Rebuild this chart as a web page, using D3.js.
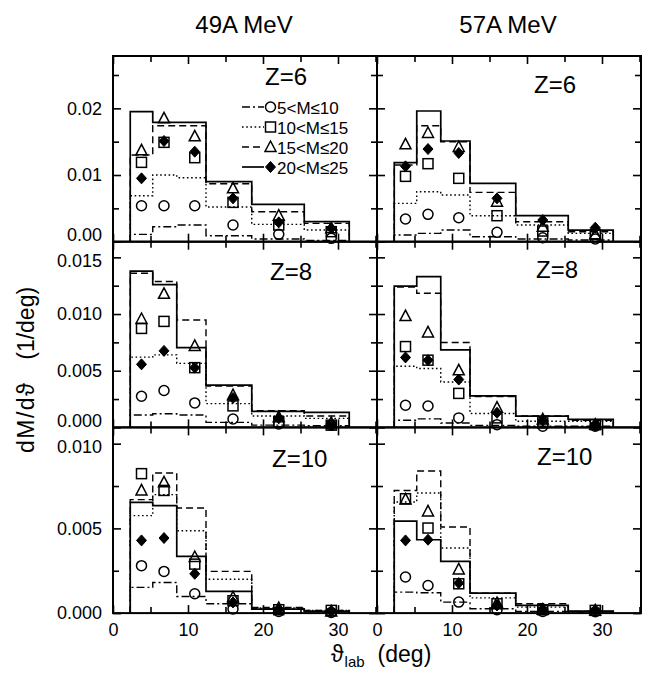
<!DOCTYPE html>
<html>
<head>
<meta charset="utf-8">
<script src="https://cdn.jsdelivr.net/npm/d3@7"></script>
<style>
  html, body { margin: 0; padding: 0; background: #fff; }
  svg { display: block; font-family: "Liberation Sans", Arial, Helvetica, sans-serif; }
</style>
</head>
<body>
<svg id="chart" width="655" height="679"></svg>
<script>
// Angular bins (deg) and marker positions shared by every panel
const binEdges = [2.3, 5.3, 8.5, 12.4, 18.5, 25.5, 31.5];
const markerAngles = [3.8, 6.8, 10.9, 16.0, 22.1, 29.1];

const multClasses = ["5<M\u226410", "10<M\u226415", "15<M\u226420", "20<M\u226425"];
const beamLabels = ["49A MeV", "57A MeV"];
const chargeLabels = ["Z=6", "Z=8", "Z=10"];

// x-axis ticks
const xMajorTicks = [0, 10, 20, 30];
const xMinorTicks = [5, 15, 25, 35];

// y-axis ticks per row
const yMajorTicksZ6 = [0, 0.01, 0.02];
const yMinorTicksZ6 = [0.005, 0.015, 0.025];
const yMajorTicksZ8 = [0, 0.005, 0.010, 0.015];
const yMinorTicksZ8 = [0.0025, 0.0075, 0.0125];
const yMajorTicksZ10 = [0, 0.005, 0.010];
const yMinorTicksZ10 = [0.0025, 0.0075];

// Histograms (calculation), one row per multiplicity class: 5-10, 10-15, 15-20, 20-25
const hist49Z6 = [
  [0.0011, 0.00225, 0.0025, 0.0009, 0.0004, 0.0002],
  [0.0069, 0.0100, 0.0096, 0.0052, 0.0026, 0.00175],
  [0.0130, 0.0174, 0.0174, 0.0087, 0.0045, 0.00275],
  [0.0195, 0.0179, 0.0179, 0.0090, 0.0056, 0.0030]
];
const data49Z6 = [
  [0.0054, 0.0054, 0.0054, 0.0025, 0.0011, 0.0005],
  [0.0119, 0.0149, 0.0126, 0.0059, 0.0025, 0.0015],
  [0.0137, 0.0185, 0.0158, 0.0080, 0.0039, 0.0020],
  [0.0095, 0.0151, 0.0135, 0.0065, 0.0029, 0.0020]
];
const hist57Z6 = [
  [0.0010, 0.00125, 0.00175, 0.00075, 0.0004, 0.00025],
  [0.00575, 0.0075, 0.0070, 0.0039, 0.0025, 0.00125],
  [0.0115, 0.0174, 0.0150, 0.0074, 0.0030, 0.0015],
  [0.01185, 0.0196, 0.0151, 0.00875, 0.0039, 0.00175]
];
const data57Z6 = [
  [0.0034, 0.0041, 0.0036, 0.0014, 0.0006, 0.0004],
  [0.0098, 0.0117, 0.0095, 0.0039, 0.0016, 0.0011],
  [0.0146, 0.0163, 0.0142, 0.0060, 0.00225, 0.0011],
  [0.0113, 0.0139, 0.0133, 0.0065, 0.00325, 0.0021]
];
const hist49Z8 = [
  [0.0011, 0.0012, 0.0011, 0.00044, 0.0002, 0.00015],
  [0.0062, 0.0064, 0.00565, 0.0021, 0.0010, 0.0008],
  [0.0136, 0.01287, 0.00947, 0.00364, 0.00148, 0.0010],
  [0.01379, 0.0126, 0.00704, 0.00373, 0.00142, 0.00133]
];
const data49Z8 = [
  [0.00275, 0.00325, 0.00216, 0.00074, 0.0003, 0.0002],
  [0.00873, 0.00935, 0.00527, 0.0019, 0.0005, 0.0002],
  [0.00956, 0.01178, 0.00719, 0.00284, 0.0009, 0.0004],
  [0.00556, 0.00675, 0.00527, 0.0026, 0.0008, 0.0002]
];
const hist57Z8 = [
  [0.00063, 0.00075, 0.00039, 0.00018, 0.0001, 0.0001],
  [0.00539, 0.0052, 0.0040, 0.00123, 0.00054, 0.00054],
  [0.01237, 0.01183, 0.00749, 0.00272, 0.0010, 0.00063],
  [0.01246, 0.0133, 0.00683, 0.00278, 0.0010, 0.0007]
];
const data57Z8 = [
  [0.00195, 0.00189, 0.00084, 0.00024, 0.0001, 0.0001],
  [0.00713, 0.00593, 0.0030, 0.00084, 0.0004, 0.00024],
  [0.00982, 0.00838, 0.00503, 0.00174, 0.0007, 0.00024],
  [0.00617, 0.00593, 0.00422, 0.00129, 0.0006, 0.00015]
];
const hist49Z10 = [
  [0.00152, 0.00181, 0.00098, 0.00055, 0.00024, 0.0001],
  [0.00575, 0.00699, 0.00486, 0.0020, 0.0003, 0.00016],
  [0.0067, 0.00827, 0.0062, 0.00246, 0.00033, 0.00016],
  [0.00654, 0.00634, 0.00335, 0.00128, 0.00024, 0.0001]
];
const data49Z10 = [
  [0.0028, 0.00246, 0.00114, 0.00024, 0.0001, 0.00004],
  [0.00823, 0.00724, 0.00289, 0.00073, 0.0002, 0.00016],
  [0.00724, 0.00772, 0.00331, 0.00093, 0.0003, 0.0001],
  [0.00429, 0.00443, 0.00232, 0.00063, 0.0002, 0.0001]
];
const hist57Z10 = [
  [0.00124, 0.0012, 0.00065, 0.00026, 0.0001, 0.00006],
  [0.00656, 0.00709, 0.00384, 0.0009, 0.00035, 0.0001],
  [0.00724, 0.00839, 0.00508, 0.00118, 0.00055, 0.0001],
  [0.00543, 0.00433, 0.00305, 0.00118, 0.00045, 0.00012]
];
const data57Z10 = [
  [0.00213, 0.00163, 0.00065, 0.0002, 0.0001, 0.00008],
  [0.00675, 0.00502, 0.00173, 0.00055, 0.0002, 0.00016],
  [0.00671, 0.0060, 0.00258, 0.00059, 0.0002, 0.00016],
  [0.00429, 0.00433, 0.00177, 0.00045, 0.0002, 0.00016]
];

// ---------------- layout ----------------
const svg = d3.select("#chart");
const padLeft = 113, padTop = 56;
const panelW = 264, panelH = 185.7;
const xMax = 35.2;
const yMaxRows = [0.02785, 0.01638, 0.01096];

const rows = [
  { hists: [hist49Z6, hist57Z6], data: [data49Z6, data57Z6], major: yMajorTicksZ6, minor: yMinorTicksZ6, fmt: d3.format(".2f") },
  { hists: [hist49Z8, hist57Z8], data: [data49Z8, data57Z8], major: yMajorTicksZ8, minor: yMinorTicksZ8, fmt: d3.format(".3f") },
  { hists: [hist49Z10, hist57Z10], data: [data49Z10, data57Z10], major: yMajorTicksZ10, minor: yMinorTicksZ10, fmt: d3.format(".3f") }
];

// line styles: dash-dot, dotted, dashed, solid
const dashes = ["8,3,2,3", "1.6,2.6", "7,4", null];
const zLabelPos = [[[152, 29], [157, 37]], [[157, 38], [159, 36]], [[159, 40], [160, 38]]];

const x = d3.scaleLinear().domain([0, xMax]).range([0, panelW]);

// marker symbols
function drawMarker(g, kind, cx, cy) {
  if (kind === 0) {
    g.append("circle").attr("cx", cx).attr("cy", cy).attr("r", 5)
      .attr("fill", "none").attr("stroke", "#000").attr("stroke-width", 1.5);
  } else if (kind === 1) {
    g.append("rect").attr("x", cx - 5).attr("y", cy - 5).attr("width", 10).attr("height", 10)
      .attr("fill", "none").attr("stroke", "#000").attr("stroke-width", 1.5);
  } else if (kind === 2) {
    g.append("path").attr("d", `M${cx},${cy - 6}L${cx + 5.5},${cy + 4.5}L${cx - 5.5},${cy + 4.5}Z`)
      .attr("fill", "none").attr("stroke", "#000").attr("stroke-width", 1.5);
  } else {
    g.append("path").attr("d", `M${cx},${cy - 5.5}L${cx + 5},${cy}L${cx},${cy + 5.5}L${cx - 5},${cy}Z`)
      .attr("fill", "#000").attr("stroke", "#000").attr("stroke-width", 1);
  }
}

rows.forEach((row, r) => {
  const y = d3.scaleLinear().domain([0, yMaxRows[r]]).range([panelH, 0]);
  [0, 1].forEach(c => {
    const g = svg.append("g")
      .attr("transform", `translate(${padLeft + c * panelW},${padTop + r * panelH})`);

    // histograms
    row.hists[c].forEach((vals, k) => {
      const pts = [[binEdges[0], 0]];
      vals.forEach((v, i) => { pts.push([binEdges[i], v]); pts.push([binEdges[i + 1], v]); });
      pts.push([binEdges[binEdges.length - 1], 0]);
      const line = d3.line().x(d => x(d[0])).y(d => y(d[1]));
      g.append("path").attr("d", line(pts))
        .attr("fill", "none").attr("stroke", "#000")
        .attr("stroke-width", k === 3 ? 1.7 : 1.4)
        .attr("stroke-dasharray", dashes[k]);
    });

    // measured points
    row.data[c].forEach((vals, k) => {
      vals.forEach((v, i) => drawMarker(g, k, x(markerAngles[i]), y(v)));
    });

    // axes with inward ticks on all four sides
    const yMajL = d3.axisLeft(y).tickValues(row.major).tickSizeInner(-8).tickSizeOuter(0).tickPadding(11)
      .tickFormat(c === 0 ? row.fmt : () => "");
    const yMinL = d3.axisLeft(y).tickValues(row.minor).tickSizeInner(-6).tickSizeOuter(0).tickFormat(() => "");
    const yMajR = d3.axisRight(y).tickValues(row.major).tickSizeInner(-8).tickSizeOuter(0).tickFormat(() => "");
    const yMinR = d3.axisRight(y).tickValues(row.minor).tickSizeInner(-6).tickSizeOuter(0).tickFormat(() => "");
    const xMajB = d3.axisBottom(x).tickValues(xMajorTicks).tickSizeInner(-8).tickSizeOuter(0).tickPadding(10)
      .tickFormat(r === 2 ? d3.format("d") : () => "");
    const xMinB = d3.axisBottom(x).tickValues(xMinorTicks.filter(t => t < xMax)).tickSizeInner(-6).tickSizeOuter(0).tickFormat(() => "");
    const xMajT = d3.axisTop(x).tickValues(xMajorTicks).tickSizeInner(-8).tickSizeOuter(0).tickFormat(() => "");
    const xMinT = d3.axisTop(x).tickValues(xMinorTicks.filter(t => t < xMax)).tickSizeInner(-6).tickSizeOuter(0).tickFormat(() => "");

    const axes = [
      [yMajL, 0, 0], [yMinL, 0, 0], [yMajR, panelW, 0], [yMinR, panelW, 0],
      [xMajB, 0, panelH], [xMinB, 0, panelH], [xMajT, 0, 0], [xMinT, 0, 0]
    ];
    axes.forEach(([ax, tx, ty], ai) => {
      const a = g.append("g").attr("transform", `translate(${tx},${ty})`).call(ax);
      a.select(".domain").remove();
      a.selectAll(".tick line").attr("stroke", "#000").attr("stroke-width", 1.6);
      a.selectAll(".tick text").attr("fill", "#000").attr("font-size", 18)
        .attr("font-family", "'Liberation Sans', Arial, sans-serif");
      if (ai === 0) {
        // keep labels at the shared row boundaries apart
        const topVal = row.major[row.major.length - 1];
        a.selectAll(".tick text")
          .attr("dy", d => (d === 0 && r < 2) ? "-0.05em" : (r > 0 && d === topVal) ? "0.5em" : "0.32em");
      }
    });

    // frame
    g.append("rect").attr("x", 0).attr("y", 0).attr("width", panelW).attr("height", panelH)
      .attr("fill", "none").attr("stroke", "#000").attr("stroke-width", 2);

    // charge label
    g.append("text").attr("x", zLabelPos[r][c][0]).attr("y", zLabelPos[r][c][1])
      .attr("font-size", 24).attr("fill", "#000").text(chargeLabels[r]);

    // legend in the first panel
    if (r === 0 && c === 0) {
      multClasses.forEach((lab, k) => {
        const ly = 51 + k * 20;
        g.append("line").attr("x1", 129).attr("x2", 151).attr("y1", ly).attr("y2", ly)
          .attr("stroke", "#000").attr("stroke-width", k === 3 ? 1.7 : 1.4)
          .attr("stroke-dasharray", dashes[k]);
        drawMarker(g, k, 157.5, ly);
        g.append("text").attr("x", 164).attr("y", ly + 6.5)
          .attr("font-size", 17).attr("fill", "#000").text(lab);
      });
    }
  });
});

// column titles
beamLabels.forEach((t, c) => {
  svg.append("text").attr("x", padLeft + c * panelW + panelW / 2 - 1).attr("y", 33)
    .attr("text-anchor", "middle").attr("font-size", 24).attr("fill", "#000").text(t);
});

// y-axis title
const yt = svg.append("text")
  .attr("transform", `translate(34,453) rotate(-90)`)
  .attr("font-size", 23).attr("fill", "#000");
yt.append("tspan").attr("letter-spacing", 1.5).text("dM/d\u03D1");
yt.append("tspan").attr("dx", 22).text("(1/deg)");

// x-axis title with subscript
const xt = svg.append("text").attr("x", 331).attr("y", 662)
  .attr("font-size", 23).attr("fill", "#000");
xt.append("tspan").text("\u03D1");
xt.append("tspan").attr("font-size", 15).attr("dx", 1).attr("dy", 5).text("lab");
xt.append("tspan").attr("dx", 13).attr("dy", -5).text("(deg)");
</script>
</body>
</html>
